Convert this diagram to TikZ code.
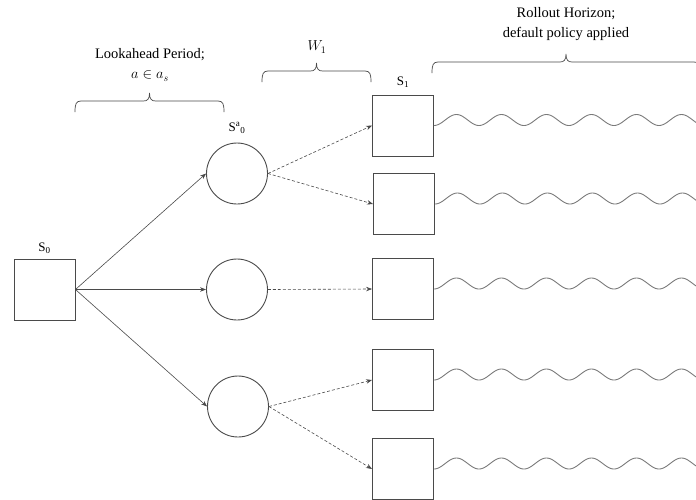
\documentclass[tikz,border=0pt]{standalone}
\usepackage{fontspec}
\setmainfont{Liberation Serif}
\usetikzlibrary{arrows.meta}
\definecolor{ln}{HTML}{4A4A4A}
\definecolor{wv}{HTML}{7A7A7A}
\tikzset{
  statebox/.style={draw=ln, line width=0.9pt, minimum size=61pt, inner sep=0pt},
  chance/.style={draw=ln, line width=0.9pt, circle, minimum size=61pt, inner sep=0pt},
  solidarrow/.style={draw=ln, line width=0.6pt, -{Stealth[length=6pt,width=4.5pt]}},
  dasharrow/.style={draw=ln, line width=0.6pt, dash pattern=on 3pt off 2pt, -{Stealth[length=6pt,width=4.5pt]}},
  wave/.style={draw=wv, line width=0.9pt},
  bracestyle/.style={draw=ln, line width=0.7pt},
  lbl/.style={font=\fontsize{14.5}{20}\selectfont, align=center, inner sep=0pt},
  slbl/.style={font=\fontsize{13}{15}\selectfont, inner sep=0pt},
  pics/hbrace/.style={code={
    \draw[bracestyle] (-#1,-11) .. controls (-#1,-3) and (-#1+1,0) .. (-#1+6,0)
      -- (-6,0) .. controls (-2,0) and (0,2) .. (0,8)
      .. controls (0,2) and (2,0) .. (6,0) -- (#1-6,0)
      .. controls (#1-1,0) and (#1,-3) .. (#1,-11);
  }}
}
\begin{document}
\begin{tikzpicture}[x=1pt,y=1pt]
\useasboundingbox (0,0) rectangle (696,-499);
\clip (0,0) rectangle (696,-499);
% states
\node[statebox] (s0) at (44.5,-289.5) {};
\node[chance] (c1) at (237,-173.5) {};
\node[chance] (c2) at (237,-289.5) {};
\node[chance] (c3) at (238,-406.5) {};
\node[statebox] (b1) at (403,-125.5) {};
\node[statebox] (b2) at (404,-204) {};
\node[statebox] (b3) at (403,-289) {};
\node[statebox] (b4) at (403,-380) {};
\node[statebox] (b5) at (403,-469) {};
% labels
\node[slbl] (ls0) at (44.5,-248) {S\textsubscript{0}};
\node[slbl] (lsa) at (237,-128) {S\textsuperscript{a}\textsubscript{0}};
\node[slbl] (ls1) at (403,-82) {S\textsubscript{1}};
\node[lbl] (tl) at (150,-65) {Lookahead Period;\\ $a\in a_s$};
\node[lbl] (tw) at (317,-47) {$W_1$};
\node[lbl] (tr) at (566,-24) {Rollout Horizon;\\ default policy applied};
% braces
\pic at (149.5,-101) {hbrace=74.5};
\pic at (316.5,-71) {hbrace=54.5};
\pic at (566,-62) {hbrace=134};
% arrows
\draw[solidarrow] (s0.east) -- (c1.west);
\draw[solidarrow] (s0.east) -- (c2.west);
\draw[solidarrow] (s0.east) -- (c3.west);
\draw[dasharrow] (c1.east) -- (b1.west);
\draw[dasharrow] (c1.east) -- (b2.west);
\draw[dasharrow] (c2.east) -- (b3.west);
\draw[dasharrow] (c3.east) -- (b4.west);
\draw[dasharrow] (c3.east) -- (b5.west);
% rollouts
\foreach \b in {b1,b2,b3,b4,b5}{
  \draw[wave, shift={(\b.east)}] plot[domain=0:270, samples=240, smooth] (\x, {5.5*(1-cos(8*\x))});
}
\end{tikzpicture}
\end{document}
